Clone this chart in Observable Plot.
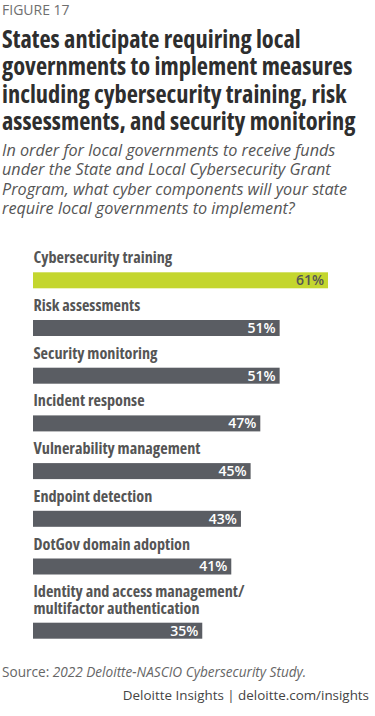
<!DOCTYPE html>
<html><head><meta charset="utf-8">
<script src="https://cdn.jsdelivr.net/npm/d3@7"></script>
<script src="https://cdn.jsdelivr.net/npm/@observablehq/plot@0.6"></script>
<style>
body{margin:0;background:#fff;width:375px;height:716px;position:relative;overflow:hidden;font-family:"Open Sans",sans-serif;}
.abs{position:absolute;left:2px;white-space:nowrap;}
#fig{top:1.6px;font-size:14px;line-height:16px;color:#6f6f6f;}
#title{top:25.2px;font-size:24.4px;line-height:27.3px;font-weight:700;font-stretch:75%;color:#2e2e2e;}
#sub{top:140.6px;font-size:16.2px;line-height:19.5px;font-style:italic;color:#555;}
#chart{position:absolute;left:0;top:240px;}
#source{top:664px;font-size:13.6px;line-height:16px;color:#666;}
#credit{top:686.8px;left:auto;right:6px;font-size:13.4px;line-height:16px;color:#444;}
</style></head>
<body>
<div id="fig" class="abs">FIGURE 17</div>
<div id="title" class="abs">States anticipate requiring local<br>governments to implement measures<br>including cybersecurity training, risk<br>assessments, and security monitoring</div>
<div id="sub" class="abs">In order for local governments to receive funds<br>under the State and Local Cybersecurity Grant<br>Program, what cyber components will your state<br>require local governments to implement?</div>
<div id="chart"></div>
<div id="source" class="abs">Source: <i>2022 Deloitte-NASCIO Cybersecurity Study.</i></div>
<div id="credit" class="abs">Deloitte Insights | deloitte.com/insights</div>
<script>
const categories = [
  "Cybersecurity training",
  "Risk assessments",
  "Security monitoring",
  "Incident response",
  "Vulnerability management",
  "Endpoint detection",
  "DotGov domain adoption",
  "Identity and access management/\nmultifactor authentication"
];
const values = [61, 51, 51, 47, 45, 43, 41, 35];
const highlighted = ["Cybersecurity training"];

const green = "#c4d62e", gray = "#5a5d63";
const W = 375, H = 405;
const lineH = 16.5, rowStep = 47.7, barH = 16, firstBarTop = 32.3, baseGap = 9.5, labelFs = 16.2;

let extra = 0;
const rows = categories.map((c, i) => {
  const lines = c.split("\n");
  extra += (lines.length - 1) * lineH;
  const top = firstBarTop + i * rowStep + extra;
  return {c, v: values[i], lines, top, bottom: top + barH, mid: top + barH / 2};
});
const labelLines = rows.flatMap(r => r.lines.map((t, k) => ({
  t, y: r.top - baseGap - (r.lines.length - 1 - k) * lineH - 0.32 * labelFs
})));

const svg = Plot.plot({
  width: W, height: H,
  marginLeft: 33, marginRight: 47, marginTop: 0, marginBottom: 0,
  style: {fontFamily: "'Open Sans', sans-serif", background: "transparent"},
  x: {domain: [0, 61], axis: null},
  y: {domain: [0, H], range: [0, H], axis: null},
  color: {type: "identity"},
  marks: [
    Plot.rect(rows, {x1: 0, x2: "v", y1: "top", y2: "bottom",
      fill: d => highlighted.includes(d.c) ? green : gray}),
    Plot.text(labelLines, {x: 0, y: "y", text: "t", textAnchor: "start", lineAnchor: "middle",
      fontSize: labelFs, fontWeight: 700, fill: "#555"}),
    Plot.text(rows, {x: "v", y: "mid", text: d => d.v + "%", textAnchor: "end", lineAnchor: "middle",
      dx: -4.5, fontSize: 14, fontWeight: 600,
      fill: d => highlighted.includes(d.c) ? "#555" : "#fff"})
  ]
});
d3.select(svg).selectAll("g[aria-label=text]").filter((d, i) => i === 0).style("font-stretch", "75%");
document.getElementById("chart").appendChild(svg);
</script>
</body></html>
